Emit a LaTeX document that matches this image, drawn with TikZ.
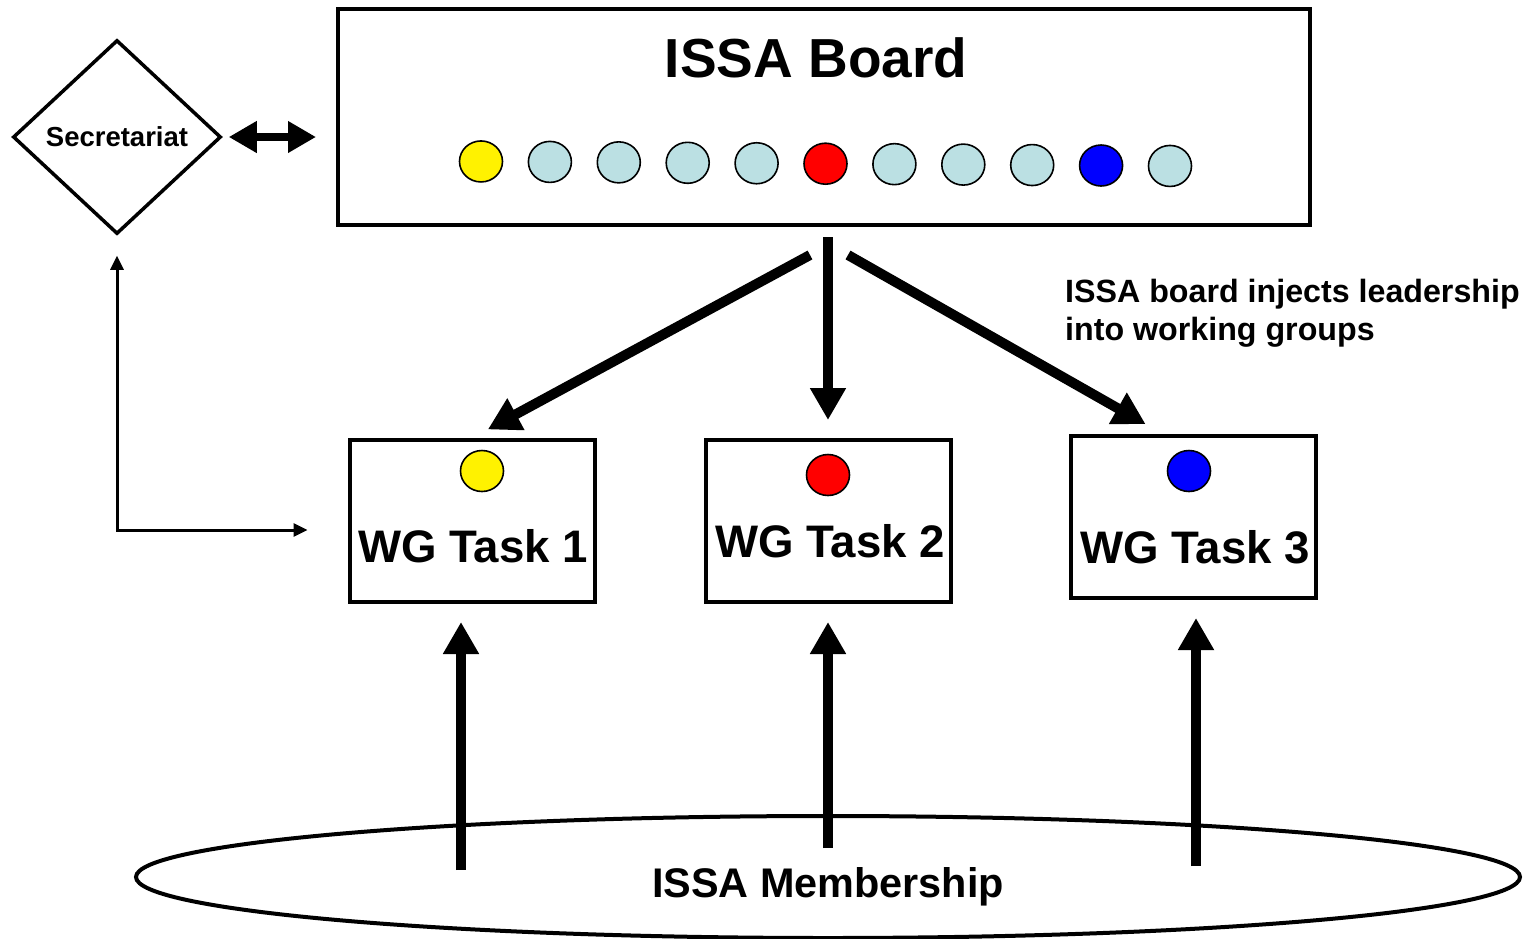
\documentclass[tikz,border=0pt]{standalone}
\usepackage{fontspec}
\setmainfont{Liberation Sans}
\usepackage{tikz}
\usetikzlibrary{shapes.geometric,arrows.meta,positioning}
\definecolor{seat}{RGB}{187,224,227}
\tikzset{
        block/.style = {draw, rectangle, line width=4pt,
            minimum width=245pt,
            minimum height=162pt},
        dot/.style = {draw, ellipse, line width=1.6pt, inner sep=0pt,
            minimum width=43pt, minimum height=41pt},
        bigtext/.style = {anchor=base, font=\fontsize{45.6}{50}\bfseries\selectfont},
        lead/.style = {draw, line width=10pt, -{Triangle[length=32pt,width=34pt]}},
        link/.style = {draw, line width=8pt, {Triangle[length=28pt,width=30pt]}-{Triangle[length=28pt,width=30pt]}},
        report/.style = {draw, line width=3pt, {Triangle[length=14pt,width=13pt]}-{Triangle[length=14pt,width=13pt]}},
    }

\begin{document}
\begin{tikzpicture}[x=1pt,y=-1pt]
    \useasboundingbox (0,0) rectangle (1540,938);

    \node[draw, line width=4pt, minimum width=972pt, minimum height=216pt] (board) at (824,117) {};
    \node[anchor=base, font=\fontsize{55}{60}\bfseries\selectfont] (title) at (816,77) {ISSA Board};
    \foreach \c [count=\i] in {yellow,seat,seat,seat,seat,red,seat,seat,seat,blue,seat}
        \node[dot, fill=\c] (b\i) at ({481+68.9*(\i-1)},{161+0.45*\i}) {};

    \node[draw, diamond, line width=3.5pt, inner sep=0pt,
          minimum width=208pt, minimum height=194pt,
          font=\fontsize{27.5}{30}\bfseries\selectfont] (sec) at (117,137) {Secretariat};

    \node[block] (wg1) at (472,521) {};
    \node[block] (wg2) at (828,521) {};
    \node[block] (wg3) at (1193,517) {};
    \node[dot, fill=yellow] (d1) at (482,471) {};
    \node[dot, fill=red] (d2) at (828,475) {};
    \node[dot, fill=blue] (d3) at (1189,471) {};
    \node[bigtext] (t1) at (473,562) {WG Task 1};
    \node[bigtext] (t2) at (830,557) {WG Task 2};
    \node[bigtext] (t3) at (1195,563) {WG Task 3};

    \node[anchor=north west, align=left, inner sep=0pt,
          font=\fontsize{32.2}{38}\bfseries\selectfont] (note) at (1065,279)
          {ISSA board injects leadership\\into working groups};

    \node[draw, ellipse, line width=4pt, inner sep=0pt,
          minimum width=1384pt, minimum height=122pt] (members) at (828,877) {};
    \node[anchor=base, font=\fontsize{41.4}{46}\bfseries\selectfont] (mtext) at (828,897) {ISSA Membership};

    \coordinate (fanL) at (810,255);
    \coordinate (fanM) at (828,237);
    \coordinate (fanR) at (848,255);
    \coordinate (m1) at (461,870);
    \coordinate (m2) at (828,848);
    \coordinate (m3) at (1196,866);

    \draw[lead, shorten >=18pt] (fanL) -- (wg1.north);
    \draw[lead, shorten >=18pt] (fanM) -- (wg2.north);
    \draw[lead, shorten >=20pt] (fanR) -- ([xshift=-30pt]wg3.north);

    \draw[lead, shorten >=18pt] (m1) -- (m1 |- wg1.south);
    \draw[lead, shorten >=18pt] (m2) -- (m2 |- wg2.south);
    \draw[lead, shorten >=18pt] (m3) -- (m3 |- wg3.south);

    \draw[link, shorten <=6pt, shorten >=20pt] (sec.east) -- (sec.east -| board.west);
    \draw[report, shorten <=20pt, shorten >=40pt] (sec.south) |- ([yshift=-9pt]wg1.west);
\end{tikzpicture}
\end{document}
